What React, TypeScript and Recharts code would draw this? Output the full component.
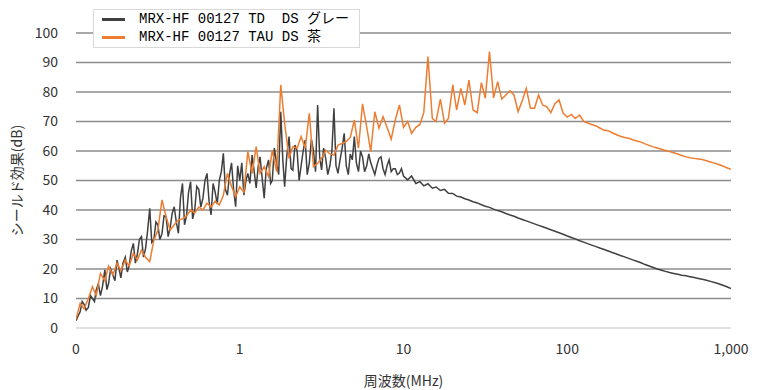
import React from "react";
import { LineChart, Line, XAxis, YAxis, CartesianGrid, Label } from "recharts";

// log-spaced sweep, 40 points per decade
const mantissas = [
  1.0, 1.06, 1.12, 1.19, 1.26, 1.33, 1.41, 1.5, 1.58, 1.68, 1.78, 1.88, 2.0, 2.11,
  2.24, 2.37, 2.51, 2.66, 2.82, 2.99, 3.16, 3.35, 3.55, 3.76, 3.98, 4.22, 4.47, 4.73,
  5.01, 5.31, 5.62, 5.96, 6.31, 6.68, 7.08, 7.5, 7.94, 8.41, 8.91, 9.44
];
const decades = [0.1, 1, 10, 100];
const freqs = decades
  .flatMap((d) => mantissas.map((m) => Number((m * d).toPrecision(3))))
  .concat([1000]);

// MRX-HF 00127 TD  DS グレー
const td01 = [2.5, 5.5, 8, 7, 10, 13, 11, 19.7, 15, 18, 23, 17, 24, 21, 28.7, 25, 31, 27, 40.6, 30, 35, 32, 37.7, 34, 41.1, 32.1, 49, 38, 49.6, 40, 47, 44, 52.4, 38.3, 46, 50, 59.2, 45, 56, 41.1];
const td1 = [50, 45, 52.4, 58.6, 47.5, 58, 44, 57, 50, 55.8, 73.3, 47.9, 64.9, 53.5, 60, 55, 63.7, 56, 60, 75.6, 53.6, 57.5, 55, 74.5, 52.4, 61, 55, 59, 64.9, 53, 58, 55, 56, 52, 57.5, 54, 55, 53, 54, 52.5];
const td10 = [51.5, 50.2, 51.5, 49, 49.6, 48.2, 48.9, 47.4, 47.8, 46.6, 47, 45.7, 45.6, 44.7, 44.4, 43.8, 43.4, 42.8, 42.4, 41.8, 41.3, 40.9, 40.3, 39.8, 39.4, 38.8, 38.3, 37.9, 37.3, 36.8, 36.3, 35.8, 35.3, 34.8, 34.3, 33.8, 33.3, 32.8, 32.3, 31.8];
const td100 = [31.2, 30.7, 30.2, 29.6, 29.1, 28.6, 28.1, 27.6, 27.1, 26.6, 26.1, 25.6, 25.1, 24.6, 24.1, 23.6, 23.1, 22.6, 22.1, 21.5, 21, 20.5, 20, 19.6, 19.2, 18.8, 18.5, 18.2, 17.9, 17.7, 17.4, 17.1, 16.8, 16.5, 16.2, 15.8, 15.4, 15, 14.5, 14, 13.4];
// extra gray readings between the steps above (0.1–10 MHz is measured denser)
const tdMid01 = [4, 9, 6, 11, 9, 15, 14, 13, 20, 16, 20, 22, 19, 26, 22, 30, 24, 33, 29, 36, 30, 38, 31, 39, 36, 44, 35, 46, 37, 48, 41, 50, 43, 49, 42, 53, 47, 52, 47, 55];
const tdMid1 = [56, 50, 49, 53, 55, 51, 54, 49, 61, 52, 57, 58, 54, 62, 50, 60, 52, 64, 53, 58, 61, 52, 60, 55, 57, 66, 52, 57, 56, 60, 53, 59, 54, 55, 58, 52, 57, 54, 52, 54];

// MRX-HF 00127 TAU DS 茶
const tau01 = [3, 8.4, 6.5, 10, 14, 11, 18.5, 16, 21, 18, 22, 19.5, 23, 21, 25.3, 23, 26.4, 24, 22.5, 29.8, 33, 43.4, 37.7, 33.2, 35, 36.6, 37, 38, 40, 39, 41, 40, 42.3, 41, 43, 41.7, 45, 52.4, 48, 44.5];
const tau1 = [47.9, 46, 59.8, 52.4, 61.5, 52.4, 54.7, 51.3, 60.3, 53, 82.4, 69.4, 57.5, 61.5, 60.9, 64.9, 61, 72.8, 54.7, 55.8, 57.5, 60.3, 59, 58.6, 62, 62.6, 63.2, 64.6, 70.5, 61, 76, 68.2, 59.8, 73.3, 67.7, 71.6, 68, 64, 70.5, 75.6];
const tau10 = [68, 70, 66, 68, 69, 73, 92, 71, 70, 77.6, 69.4, 71, 82.4, 73.9, 81.2, 75.6, 84, 73.9, 73, 83.2, 77.9, 93.7, 78, 83.5, 77.6, 79, 80.4, 79, 73.3, 77, 81.2, 74.5, 74.5, 79, 75.6, 75, 73, 76, 77.3, 72.8];
const tau100 = [71.5, 72.4, 71, 72.2, 70, 69.5, 69, 68.5, 67.8, 67, 66.9, 66.2, 65.5, 65, 64.6, 64.3, 63.8, 63.4, 63, 62.4, 61.9, 61.4, 61, 60.6, 60.2, 59.8, 59.4, 59, 58.5, 58, 57.7, 57.5, 57.3, 57.1, 56.7, 56.3, 55.9, 55.4, 54.9, 54.3, 53.8];

const seriesNames = ["MRX-HF 00127 TD  DS グレー", "MRX-HF 00127 TAU DS 茶"];
const seriesColors = ["#404040", "#ED7D31"];
const xTicks = [0.1, 1, 10, 100, 1000];
const yTicks = [0, 10, 20, 30, 40, 50, 60, 70, 80, 90, 100];

const td = [...td01, ...td1, ...td10, ...td100];
const tdMid = [...tdMid01, ...tdMid1];
const tau = [...tau01, ...tau1, ...tau10, ...tau100];

const chartData: { f: number; td?: number; tau?: number }[] = [];
freqs.forEach((f, i) => {
  chartData.push({ f, td: td[i], tau: tau[i] });
  if (i < tdMid.length) {
    chartData.push({ f: Number((f * 1.0292).toPrecision(4)), td: tdMid[i] });
  }
});

const font = "'Noto Sans CJK JP', 'Noto Sans', sans-serif";
const legendFont = "'Liberation Mono', 'Noto Sans CJK JP', monospace";

function ChartLegend() {
  return (
    <div
      style={{
        position: "absolute",
        left: 93,
        top: 9,
        border: "1px solid #d9d9d9",
        background: "#fff",
        padding: "0px 10px 1px 8px",
        fontFamily: legendFont,
        fontSize: 14,
        color: "#000",
        lineHeight: "18px"
      }}
    >
      {seriesNames.map((name, i) => (
        <div key={name} style={{ display: "flex", alignItems: "center" }}>
          <span
            style={{
              display: "inline-block",
              width: 23,
              height: 3,
              background: seriesColors[i],
              marginRight: 14
            }}
          />
          <span style={{ whiteSpace: "pre" }}>{name}</span>
        </div>
      ))}
    </div>
  );
}

export default function App() {
  return (
    <div style={{ position: "absolute", left: 0, top: 0, width: 768, height: 390, background: "#fff" }}>
      <LineChart
        width={768}
        height={390}
        data={chartData}
        margin={{ top: 33, right: 37, left: 36, bottom: 12 }}
      >
        <CartesianGrid
          vertical={false}
          horizontalValues={yTicks.slice(1)}
          stroke="#8c8c8c"
          strokeWidth={1.3}
        />
        <XAxis
          dataKey="f"
          type="number"
          scale="log"
          domain={[0.1, 1000]}
          ticks={xTicks}
          allowDataOverflow
          tickFormatter={(v: number) => (v < 1 ? "0" : v.toLocaleString("en-US"))}
          tickLine={false}
          axisLine={{ stroke: "#d9d9d9", strokeWidth: 1.5 }}
          tick={{ fill: "#333", fontSize: 14, fontFamily: font }}
          tickMargin={10}
          height={50}
        >
          <Label
            value="周波数(MHz)"
            position="insideBottom"
            offset={-8}
            style={{ fill: "#333", fontSize: 14, fontFamily: font }}
          />
        </XAxis>
        <YAxis
          type="number"
          domain={[0, 100]}
          ticks={yTicks}
          tickLine={false}
          axisLine={false}
          width={40}
          tickMargin={12}
          tick={{ fill: "#333", fontSize: 14, fontFamily: font }}
        >
          <Label
            value="シールド効果(dB)"
            angle={-90}
            position="insideLeft"
            offset={-19}
            style={{ textAnchor: "middle", fill: "#333", fontSize: 14, fontFamily: font }}
          />
        </YAxis>
        <Line
          type="linear"
          dataKey="td"
          name={seriesNames[0]}
          stroke={seriesColors[0]}
          strokeWidth={1.5}
          dot={false}
          connectNulls
          isAnimationActive={false}
        />
        <Line
          type="linear"
          dataKey="tau"
          name={seriesNames[1]}
          stroke={seriesColors[1]}
          strokeWidth={1.5}
          dot={false}
          connectNulls
          isAnimationActive={false}
        />
      </LineChart>
      <ChartLegend />
    </div>
  );
}
